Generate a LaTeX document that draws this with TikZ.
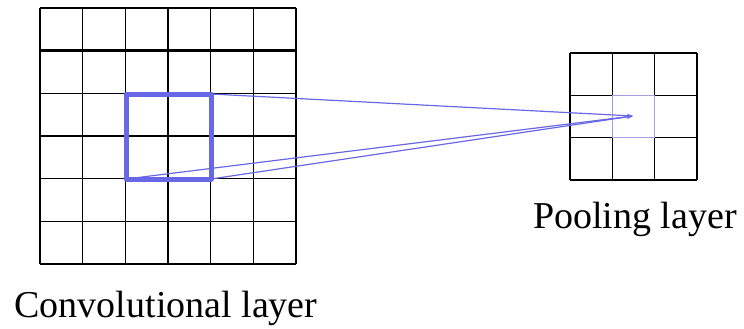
\documentclass[tikz,border=0pt]{standalone}
\usepackage{fontspec}
\setmainfont{Liberation Serif}
\newfontfamily\captionfont{Liberation Serif}
\usetikzlibrary{arrows.meta}
\definecolor{blueline}{RGB}{104,104,230}
\definecolor{lightblue}{RGB}{160,160,225}
\tikzset{
  gridline/.style={line width=1.4pt, black},
  thickgrid/.style={line width=2.4pt, black},
  window/.style={line width=5pt, blueline, line join=round},
  ray/.style={line width=1.2pt, blueline, -{Stealth[length=6pt,width=4pt]}},
  cellmark/.style={line width=1pt, lightblue},
  caption/.style={font=\captionfont\fontsize{38}{40}\selectfont, inner sep=0pt, anchor=base}
}
\begin{document}
\begin{tikzpicture}[x=1pt,y=-1pt]
\useasboundingbox (0,0) rectangle (744,329);
% big grid
\foreach \i in {0,...,6} {
  \draw[gridline] ({40+\i*42.67},8) -- ({40+\i*42.67},264);
  \draw[gridline] (40,{8+\i*42.67}) -- (296,{8+\i*42.67});
}
\draw[thickgrid] (168,8) -- (168,264);
\draw[thickgrid] (40,50.67) -- (296,50.67);
% small grid
\foreach \i in {0,...,3} {
  \draw[gridline] ({570+\i*42.33},53) -- ({570+\i*42.33},180);
  \draw[gridline] (570,{53+\i*42.33}) -- (697,{53+\i*42.33});
}
\draw[cellmark] (612.33,95.33) rectangle (654.67,137.67);
% window
\coordinate (wtl) at (126,94);
\coordinate (wtr) at (211,94);
\coordinate (wbl) at (126,179);
\coordinate (wbr) at (211,179);
\draw[window] (wtl) -- (wtr) -- (wbr) -- (wbl) -- cycle;
\node[inner sep=0pt] (tip) at (633,116) {};
\draw[ray] (wtr) -- (tip.center);
\draw[ray] (wbl) -- (tip.center);
\draw[ray] (wbr) -- (tip.center);
% captions
\node[caption] (pool) at (635,228) {Pooling layer};
\node[caption] (conv) at (166,317) {Convolutional layer};
\end{tikzpicture}
\end{document}
